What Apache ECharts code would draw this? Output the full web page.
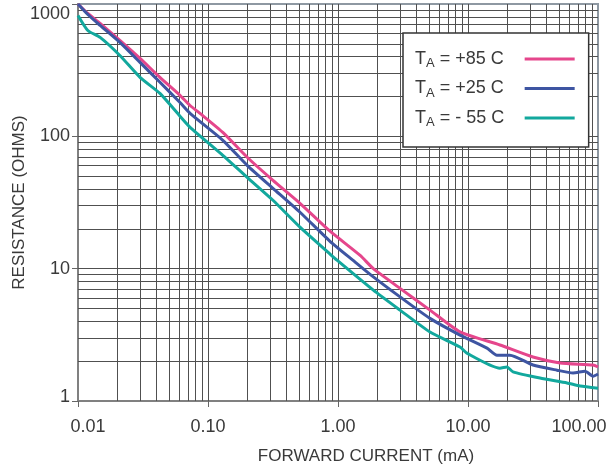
<!DOCTYPE html>
<html><head><meta charset="utf-8">
<script src="https://cdn.jsdelivr.net/npm/echarts@6/dist/echarts.min.js"></script>
<style>html,body{margin:0;padding:0;background:#fff}#c{width:608px;height:472px}</style>
</head><body><div id="c"></div>
<script>
// ---- data ----
const seriesNames = ['TA = +85 C', 'TA = +25 C', 'TA = - 55 C'];
const seriesColors = ['#e5468c', '#3e55a2', '#12a89d'];

const current85 = [0.01, 0.0119, 0.0148, 0.021, 0.030, 0.0427, 0.0609, 0.0728, 0.0868, 0.130, 0.200, 0.316, 0.510, 0.868, 1.48, 1.87, 3.0, 5.1, 8.68, 17.6, 31.6, 51.0, 91.6, 100];
const resist85  = [1000, 848, 713, 531, 388, 279, 204, 171, 149, 107, 69.5, 46.5, 31.2, 19.2, 12.6, 10.0, 7.1, 4.86, 3.33, 2.65, 2.15, 1.94, 1.87, 1.81];

const current25 = [0.01, 0.0119, 0.0148, 0.021, 0.030, 0.0427, 0.0609, 0.0728, 0.130, 0.200, 0.316, 0.510, 0.868, 1.30, 1.87, 3.0, 5.1, 8.68, 14.0, 16.7, 21.0, 31.6, 48.4, 64.3, 79.5, 91.6, 100];
const resist25  = [1000, 833, 689, 512, 362, 256, 180, 149, 93.3, 60.4, 40.5, 26.7, 16.1, 11.6, 8.67, 6.12, 4.21, 3.15, 2.51, 2.22, 2.22, 1.87, 1.71, 1.63, 1.68, 1.54, 1.60];

const currentM55 = [0.01, 0.0119, 0.0148, 0.021, 0.030, 0.0427, 0.0609, 0.0728, 0.130, 0.200, 0.316, 0.510, 0.868, 0.982, 1.87, 3.0, 5.1, 8.68, 9.8, 17.6, 19.9, 22.2, 35.8, 57.8, 72.8, 100];
const resistM55  = [819, 631, 559, 408, 279, 211, 142, 117, 71.9, 49.0, 32.9, 20.6, 12.9, 11.6, 6.88, 4.86, 3.32, 2.56, 2.30, 1.77, 1.81, 1.66, 1.49, 1.37, 1.30, 1.25];

const xTickLabels = ['0.01', '0.10', '1.00', '10.00', '100.00'];
const yTickLabels = ['1', '10', '100', '1000'];
const xTitle = 'FORWARD CURRENT (mA)';
const yTitle = 'RESISTANCE (OHMS)';

// ---- build ----
const FONT = "'Liberation Sans', Arial, sans-serif";
const TXT = '#3a3a3a';
function zip(a, b) { return a.map((v, i) => [v, b[i]]); }
const curves = [zip(current85, resist85), zip(current25, resist25), zip(currentM55, resistM55)];

// log-decade grid lines (2..9 in each decade, and the decades)
const xGrid = [], yGrid = [];
[0.01, 0.1, 1, 10].forEach(d => { for (let k = 1; k <= 9; k++) { if (d * k > 0.01) xGrid.push({ xAxis: d * k }); } });
[1, 10, 100].forEach(d => { for (let k = 1; k <= 9; k++) { if (d * k > 1) yGrid.push({ yAxis: d * k }); } });

const chart = echarts.init(document.getElementById('c'), null, { renderer: 'canvas' });
const series = curves.map((data, i) => ({
  name: seriesNames[i], type: 'line', data, showSymbol: false, symbol: 'none',
  smooth: 0.2, z: 5, lineStyle: { color: seriesColors[i], width: 3 }, itemStyle: { color: seriesColors[i] }
}));
series.push({
  type: 'line', data: [], z: 1, silent: true,
  markLine: {
    z: 1, silent: true, symbol: ['none', 'none'], animation: false,
    label: { show: false },
    lineStyle: { color: '#505050', width: 1, type: 'solid' },
    emphasis: { disabled: true },
    data: xGrid.concat(yGrid)
  }
});

chart.setOption({
  animation: false,
  grid: { left: 78, right: 10, top: 4, bottom: 71, show: true, borderColor: '#8e98a2', borderWidth: 2, outerBoundsMode: 'none', containLabel: false },
  xAxis: {
    type: 'log', logBase: 10, min: 0.01, max: 100,
    name: xTitle, nameLocation: 'middle', nameGap: 47, nameMoveOverlap: false,
    nameTextStyle: { fontFamily: FONT, fontSize: 17, color: TXT, padding: [0, 0, 0, 56] },
    axisLine: { show: true, lineStyle: { color: '#808080', width: 2 } },
    axisTick: { show: true, length: 6, lineStyle: { color: '#666' } },
    splitLine: { show: false }, minorTick: { show: false },
    axisLabel: {
      margin: 17, fontFamily: FONT, fontSize: 18, color: TXT,
      formatter: v => {
        const i = Math.round(Math.log10(v)) + 2;
        if (i === 0) return '{first|' + xTickLabels[i] + '}';
        if (i === xTickLabels.length - 1) return '{last|' + xTickLabels[i] + '}';
        return xTickLabels[i];
      },
      rich: {
        first: { fontFamily: FONT, fontSize: 18, color: TXT, padding: [0, 0, 0, 20] },
        last: { fontFamily: FONT, fontSize: 18, color: TXT, padding: [0, 38, 0, 0] }
      }
    }
  },
  yAxis: {
    type: 'log', logBase: 10, min: 1, max: 1000,
    name: yTitle, nameLocation: 'middle', nameGap: 50, nameMoveOverlap: false,
    nameTextStyle: { fontFamily: FONT, fontSize: 17, color: TXT },
    axisLine: { show: true, lineStyle: { color: '#808080', width: 2 } },
    axisTick: { show: true, length: 6, lineStyle: { color: '#666' } },
    splitLine: { show: false },
    axisLabel: {
      margin: 8, fontFamily: FONT, fontSize: 18, color: TXT,
      formatter: v => {
        const i = Math.round(Math.log10(v));
        if (i === yTickLabels.length - 1) return '{top|' + yTickLabels[i] + '}';
        if (i === 0) return '{bot|' + yTickLabels[i] + '}';
        return yTickLabels[i];
      },
      rich: {
        top: { fontFamily: FONT, fontSize: 18, color: TXT, padding: [20, 0, 0, 0] },
        bot: { fontFamily: FONT, fontSize: 18, color: TXT, padding: [0, 0, 8, 0] }
      }
    }
  },
  legend: {
    data: seriesNames, orient: 'vertical', align: 'right', z: 20,
    left: 403, top: 33, padding: [17, 14, 18, 12],
    backgroundColor: '#fff', borderColor: '#333', borderWidth: 1.5, borderRadius: 0,
    icon: 'rect', itemWidth: 50, itemHeight: 3, itemGap: 9.5,
    selectedMode: false,
    formatter: name => '{t|T}{s|A}{r|' + name.slice(2) + '}',
    textStyle: {
      color: TXT, fontFamily: FONT, fontSize: 18,
      rich: {
        t: { fontFamily: FONT, fontSize: 18, color: TXT, lineHeight: 22, align: 'left' },
        s: { fontFamily: FONT, fontSize: 13, color: TXT, lineHeight: 14, verticalAlign: 'bottom', align: 'left' },
        r: { fontFamily: FONT, fontSize: 18, color: TXT, lineHeight: 22, width: 85, align: 'left' }
      }
    }
  },
  series
});
</script></body></html>
